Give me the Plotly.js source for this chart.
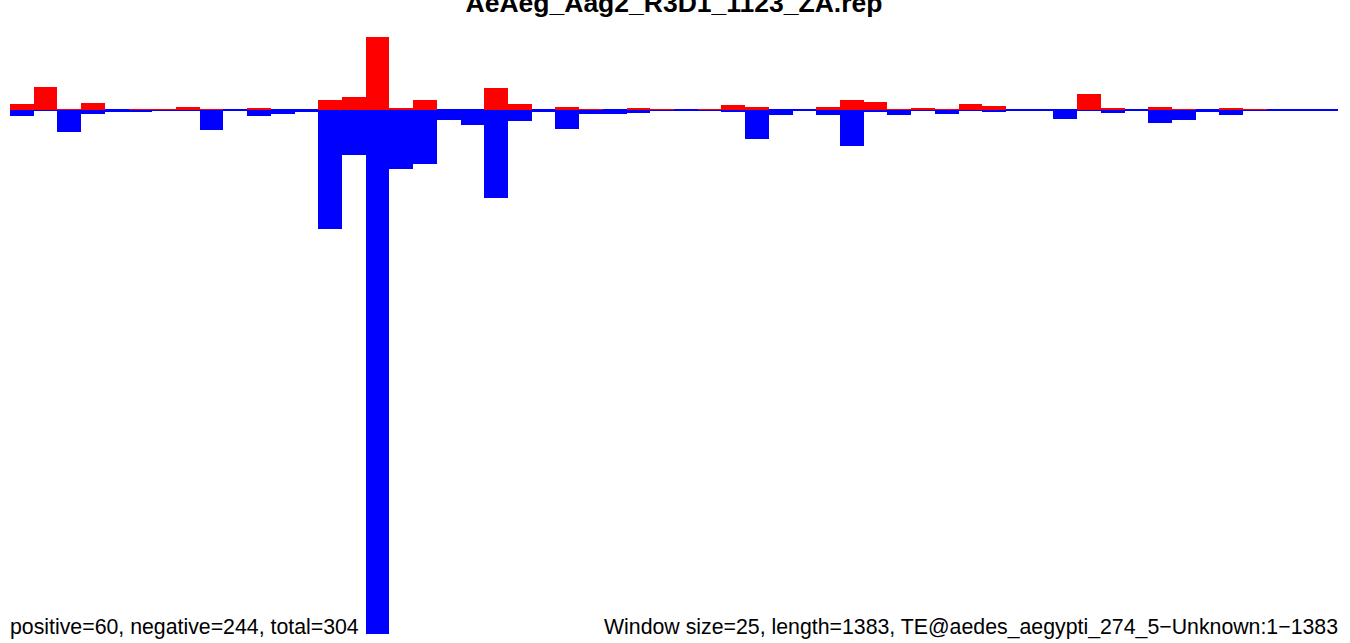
<!DOCTYPE html>
<html>
<head>
<meta charset="utf-8">
<script src="https://cdn.plot.ly/plotly-3.0.1.min.js"></script>
<style>html,body{margin:0;padding:0;background:#fff;}#chart{width:1350px;height:643px;}</style>
</head>
<body>
<div id="chart"></div>
<script>
// Window settings
const windowSize = 25;
const nWindows = 56;
const windowStarts = Array.from({length: nWindows}, (_, i) => i * windowSize);

// Positive-strand signal per window (red, plotted upward)
const positiveValues = [6, 23, 1, 7, 0, 1, 1, 3, 1, 0, 2, 0, 0, 10, 13, 73, 2, 10, 0, 0,
  22, 6, 0, 3, 1, 0, 2, 1, 0, 1, 5, 3, 0, 0, 3, 10, 8, 1, 2, 1,
  6, 4, 0, 0, 0, 16, 2, 0, 3, 1, 0, 2, 1, 0, 0, 0];

// Negative-strand signal per window (blue, plotted downward)
const negativeValues = [6, 0, 22, 4, 2, 2, 0, 0, 20, 0, 6, 4, 2, 119, 45, 524, 59, 54, 10, 15,
  88, 11, 2, 19, 4, 4, 3, 0, 0, 0, 2, 29, 5, 0, 5, 36, 2, 5, 0, 4,
  0, 2, 0, 0, 9, 0, 3, 0, 13, 10, 2, 5, 0, 0, 0, 0];

const titleText = "AeAeg_Aag2_R3D1_1123_ZA.rep";
const leftNote = "positive=60, negative=244, total=304";
const rightNote = "Window size=25, length=1383, TE@aedes_aegypti_274_5\u2212Unknown:1\u22121383";

const centers = windowStarts.map(s => s + windowSize / 2);

const traces = [
  {
    type: 'bar', x: centers, y: negativeValues.map(v => -v), width: windowSize,
    marker: {color: '#0000ff', line: {width: 0}}, hoverinfo: 'skip'
  },
  {
    type: 'bar', x: centers, y: positiveValues, width: windowSize,
    marker: {color: '#ff0000', line: {width: 0}}, hoverinfo: 'skip'
  }
];

const layout = {
  width: 1350, height: 643,
  margin: {l: 10, r: 12, t: 37, b: 9, pad: 0},
  paper_bgcolor: '#ffffff', plot_bgcolor: '#ffffff',
  showlegend: false,
  barmode: 'overlay',
  bargap: 0,
  title: {
    text: titleText,
    font: {family: 'Liberation Sans, Arial, sans-serif', size: 26.5, color: '#000000', weight: 'bold'},
    x: 0.5, xref: 'paper', xanchor: 'center',
    y: 0.981, yref: 'container', yanchor: 'bottom'
  },
  xaxis: {
    range: [0, nWindows * windowSize], showgrid: false, zeroline: false,
    showticklabels: false, ticks: '', showline: false, fixedrange: true
  },
  yaxis: {
    range: [-Math.max(...negativeValues), Math.max(...positiveValues)],
    showgrid: false, zeroline: true, zerolinecolor: '#0000ff', zerolinewidth: 2,
    showticklabels: false, ticks: '', showline: false, fixedrange: true
  },
  annotations: [
    {
      text: leftNote, xref: 'paper', yref: 'paper', x: 0, y: 0,
      xanchor: 'left', yanchor: 'bottom', xshift: -2, yshift: -7, showarrow: false,
      font: {family: 'Liberation Sans, Arial, sans-serif', size: 21.3, color: '#000000'}
    },
    {
      text: rightNote, xref: 'paper', yref: 'paper', x: 1, y: 0,
      xanchor: 'right', yanchor: 'bottom', xshift: 2, yshift: -7, showarrow: false,
      font: {family: 'Liberation Sans, Arial, sans-serif', size: 21.3, color: '#000000'}
    }
  ]
};

Plotly.newPlot('chart', traces, layout, {staticPlot: true, displayModeBar: false});
</script>
</body>
</html>
